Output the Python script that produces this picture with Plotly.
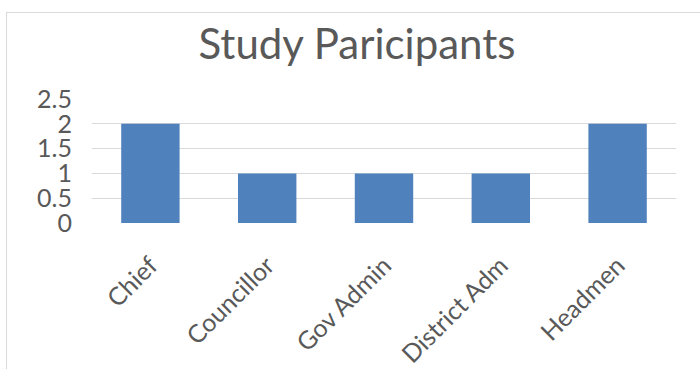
import plotly.graph_objects as go

categories = ["Chief", "Councillor", "Gov Admin", "District Adm", "Headmen"]
values = [2, 1, 1, 1, 2]
y_ticks = [0, 0.5, 1, 1.5, 2, 2.5]
y_tick_labels = ["0", "0.5", "1", "1.5", "2", "2.5"]

W, H = 700, 369
ML, MR, MT, MB = 92, 24, 99, 146
pw, ph = W - ML - MR, H - MT - MB

def px_to_paper_x(px):
    return (px - ML) / pw

def px_to_paper_y(py):
    return 1 - (py - MT) / ph

fig = go.Figure(go.Bar(
    x=categories, y=values,
    marker=dict(color="#4F81BD", line=dict(width=0)),
    width=0.5,
))

fig.update_layout(
    width=W, height=H,
    margin=dict(l=ML, r=MR, t=MT, b=MB, autoexpand=False),
    paper_bgcolor="white", plot_bgcolor="white",
    showlegend=False,
    font=dict(family="Lato", color="#595959"),
    title=dict(text="Study Paricipants", x=0.51, xanchor="center",
               y=1 - 44 / H, yanchor="middle",
               font=dict(family="Lato", size=42, color="#595959")),
    xaxis=dict(tickangle=-45, tickfont=dict(size=25, color="#595959"),
               showgrid=False, showline=False, zeroline=False,
               automargin=False,
               ticks="outside", ticklen=17, tickcolor="rgba(0,0,0,0)"),
    yaxis=dict(range=[0, 2.5], tickvals=y_ticks, ticktext=y_tick_labels,
               tickfont=dict(size=25, color="#595959"),
               showgrid=True, gridcolor="#D9D9D9", gridwidth=1,
               zeroline=False, showline=False, automargin=False,
               ticks="outside", ticklen=14, tickcolor="rgba(0,0,0,0)"),
    shapes=[
        dict(type="line", xref="paper", yref="paper",
             x0=px_to_paper_x(6), x1=px_to_paper_x(700),
             y0=px_to_paper_y(12.5), y1=px_to_paper_y(12.5),
             line=dict(color="#D9D9D9", width=1)),
        dict(type="line", xref="paper", yref="paper",
             x0=px_to_paper_x(6.5), x1=px_to_paper_x(6.5),
             y0=px_to_paper_y(12.5), y1=px_to_paper_y(369),
             line=dict(color="#D9D9D9", width=1)),
    ],
)

fig.write_html("out.html")
